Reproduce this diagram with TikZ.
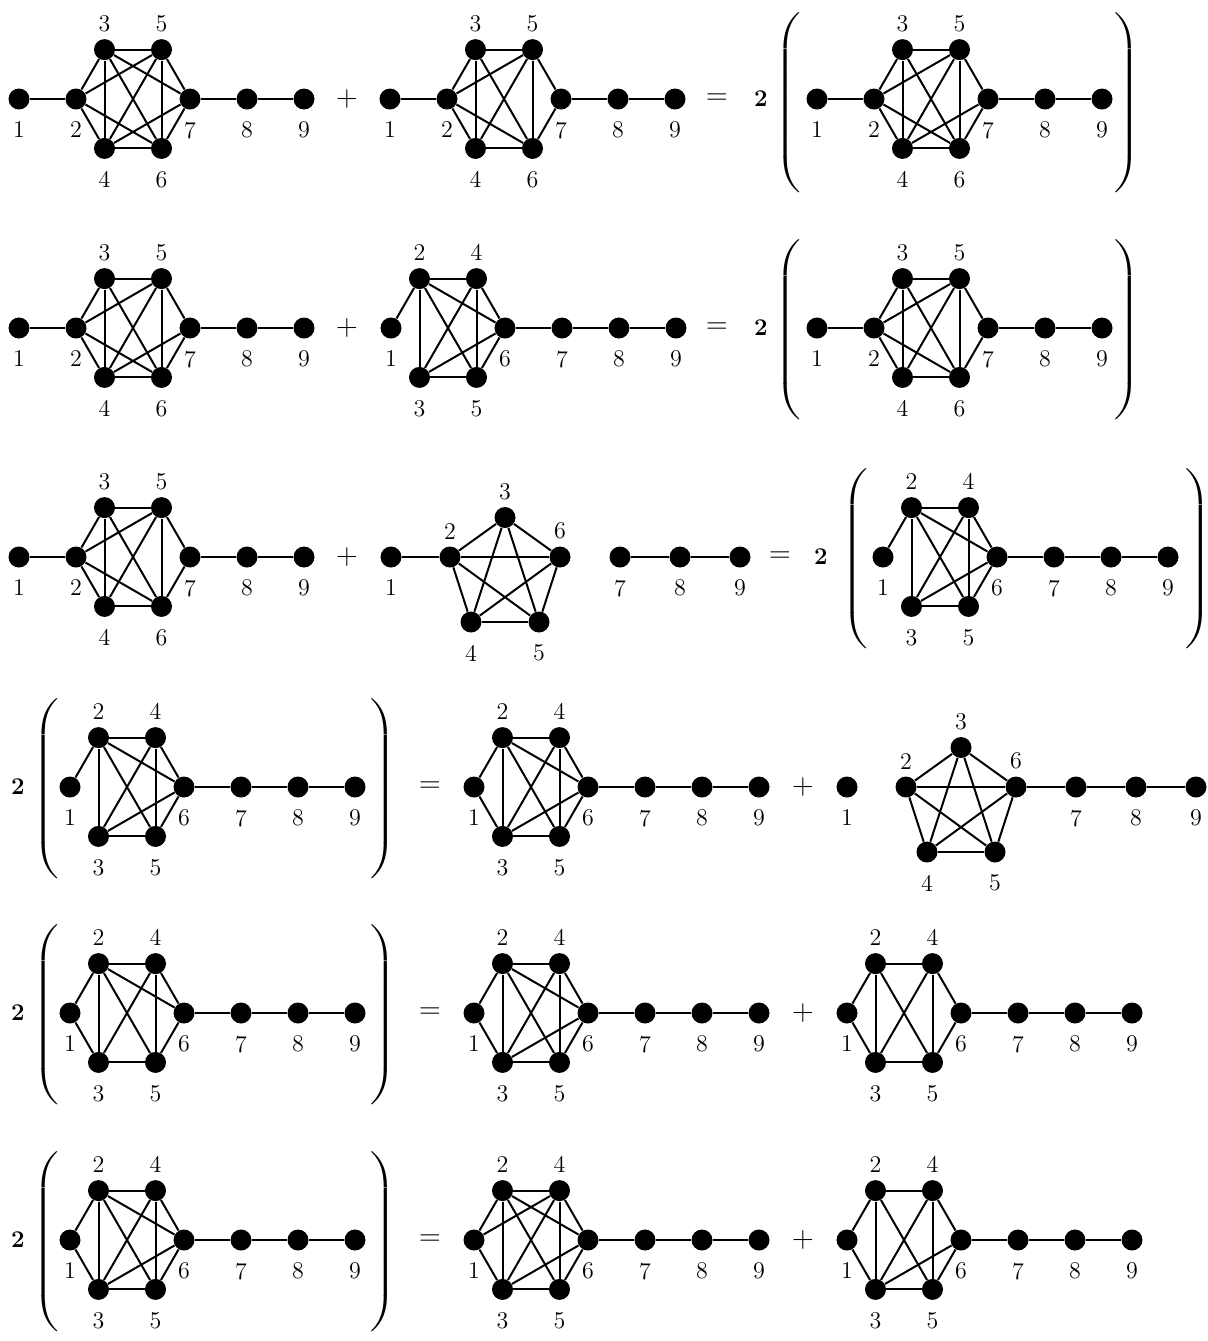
\documentclass[tikz,border=0pt]{standalone}
\usepackage{graphicx}
\usepackage{tikz}

% vertex layouts: #1 = name prefix, #2 = position of vertex 1
\newcommand{\hexout}[2]{%
  \begin{scope}[shift={(#2)}]
    \node[vtx,lb=1] (#1-1) at (0,0) {};
    \node[vtx,lb=2] (#1-2) at (57,0) {};
    \node[vtx,la=3] (#1-3) at (85.5,-49.4) {};
    \node[vtx,la=5] (#1-5) at (142.5,-49.4) {};
    \node[vtx,lb=4] (#1-4) at (85.5,49.4) {};
    \node[vtx,lb=6] (#1-6) at (142.5,49.4) {};
    \node[vtx,lb=7] (#1-7) at (171,0) {};
    \node[vtx,lb=8] (#1-8) at (228,0) {};
    \node[vtx,lb=9] (#1-9) at (285,0) {};
  \end{scope}}
\newcommand{\hexin}[2]{%
  \begin{scope}[shift={(#2)}]
    \node[vtx,lb=1] (#1-1) at (0,0) {};
    \node[vtx,la=2] (#1-2) at (28.5,-49.4) {};
    \node[vtx,la=4] (#1-4) at (85.5,-49.4) {};
    \node[vtx,lb=6] (#1-6) at (114,0) {};
    \node[vtx,lb=3] (#1-3) at (28.5,49.4) {};
    \node[vtx,lb=5] (#1-5) at (85.5,49.4) {};
    \node[vtx,lb=7] (#1-7) at (171,0) {};
    \node[vtx,lb=8] (#1-8) at (228,0) {};
    \node[vtx,lb=9] (#1-9) at (285,0) {};
  \end{scope}}
\newcommand{\penta}[2]{%
  \begin{scope}[shift={(#2)}]
    \node[vtx,lb=1] (#1-1) at (0,0) {};
    \node[vtx,la=2] (#1-2) at (59,0) {};
    \node[vtx,la=3] (#1-3) at (114,-39.5) {};
    \node[vtx,la=6] (#1-6) at (169,0) {};
    \node[vtx,lb=4] (#1-4) at (80,65) {};
    \node[vtx,lb=5] (#1-5) at (148,65) {};
    \node[vtx,lb=7] (#1-7) at (229,0) {};
    \node[vtx,lb=8] (#1-8) at (289,0) {};
    \node[vtx,lb=9] (#1-9) at (349,0) {};
  \end{scope}}
\newcommand{\edges}[2]{\foreach \s/\t in {#2} \draw[edge] (#1-\s) -- (#1-\t);}
\newcommand{\parL}{\scalebox{1.45}[1]{$\left(\vcenter{\hbox{\rule{0pt}{90pt}}}\right.$}}
\newcommand{\parR}{\scalebox{1.45}[1]{$\left.\vcenter{\hbox{\rule{0pt}{90pt}}}\right)$}}

\begin{document}
\begin{tikzpicture}[x=0.5pt, y=-0.5pt,
    vtx/.style={circle, fill=black, minimum size=10.5pt, inner sep=0pt},
    edge/.style={line width=1pt},
    la/.style={label={[font=\large]above:#1}},
    lb/.style={label={[font=\large,label distance=2.5pt]below:#1}},
    opsym/.style={font=\fontsize{15}{18}\selectfont},
    coef/.style={font=\large\bfseries},
    paren/.style={inner sep=0pt, font=\large},
]
    \useasboundingbox (0,0) rectangle (1208,1341);

    % row 1
    \hexout{g11}{19,99}
    \edges{g11}{1/2,2/3,2/4,2/5,2/6,3/4,3/5,3/6,3/7,4/5,4/6,4/7,5/6,5/7,6/7,7/8,8/9}
    \node[opsym] (p1) at (347,99) {+};
    \hexout{g12}{390,99}
    \edges{g12}{1/2,2/3,2/4,2/5,2/6,3/4,3/5,3/6,4/5,4/6,5/6,5/7,6/7,7/8,8/9}
    \node[opsym] (e1) at (717,99) {=};
    \node[coef] (c1) at (761,99) {2};
    \node[paren] (l1) at (790,103) {\parL};
    \hexout{g13}{817,99}
    \edges{g13}{1/2,2/3,2/4,2/5,2/6,3/4,3/5,3/6,4/5,4/6,4/7,5/6,5/7,6/7,7/8,8/9}
    \node[paren] (r1) at (1125,103) {\parR};

    % row 2
    \hexout{g21}{19,328}
    \edges{g21}{1/2,2/3,2/4,2/5,2/6,3/4,3/5,3/6,4/5,4/6,4/7,5/6,5/7,6/7,7/8,8/9}
    \node[opsym] (p2) at (347,328) {+};
    \hexin{g22}{391,328}
    \edges{g22}{1/2,2/3,2/4,2/5,2/6,3/4,3/5,3/6,4/5,4/6,5/6,6/7,7/8,8/9}
    \node[opsym] (e2) at (717,328) {=};
    \node[coef] (c2) at (761,328) {2};
    \node[paren] (l2) at (790,330) {\parL};
    \hexout{g23}{817,328}
    \edges{g23}{1/2,2/3,2/4,2/5,2/6,3/4,3/5,3/6,4/5,4/6,5/6,5/7,6/7,7/8,8/9}
    \node[paren] (r2) at (1125,330) {\parR};

    % row 3
    \hexout{g31}{19,557}
    \edges{g31}{1/2,2/3,2/4,2/5,2/6,3/4,3/5,3/6,4/5,4/6,5/6,5/7,6/7,7/8,8/9}
    \node[opsym] (p3) at (347,557) {+};
    \penta{g32}{391,557}
    \edges{g32}{1/2,2/3,2/4,2/5,2/6,3/4,3/5,3/6,4/5,4/6,5/6,7/8,8/9}
    \node[opsym] (e3) at (780,557) {=};
    \node[coef] (c3) at (821,557) {2};
    \node[paren] (l3) at (857,559) {\parL};
    \hexin{g33}{883,557}
    \edges{g33}{1/2,2/3,2/4,2/5,2/6,3/4,3/5,3/6,4/5,4/6,5/6,6/7,7/8,8/9}
    \node[paren] (r3) at (1196,559) {\parR};

    % row 4
    \node[coef] (c4) at (18,787) {2};
    \node[paren] (l4) at (48,789) {\parL};
    \hexin{g41}{70,787}
    \edges{g41}{1/2,2/3,2/4,2/5,2/6,3/4,3/5,3/6,4/5,4/6,5/6,6/7,7/8,8/9}
    \node[paren] (r4) at (381,789) {\parR};
    \node[opsym] (e4) at (430,787) {=};
    \hexin{g42}{474,787}
    \edges{g42}{1/2,1/3,2/3,2/4,2/5,2/6,3/4,3/5,3/6,4/5,4/6,5/6,6/7,7/8,8/9}
    \node[opsym] (p4) at (803,787) {+};
    \penta{g43}{847,787}
    \edges{g43}{2/3,2/4,2/5,2/6,3/4,3/5,3/6,4/5,4/6,5/6,6/7,7/8,8/9}

    % row 5
    \node[coef] (c5) at (18,1013) {2};
    \node[paren] (l5) at (48,1015) {\parL};
    \hexin{g51}{70,1013}
    \edges{g51}{1/2,1/3,2/3,2/4,2/5,2/6,3/4,3/5,4/5,4/6,5/6,6/7,7/8,8/9}
    \node[paren] (r5) at (381,1015) {\parR};
    \node[opsym] (e5) at (430,1013) {=};
    \hexin{g52}{474,1013}
    \edges{g52}{1/2,1/3,2/3,2/4,2/5,2/6,3/4,3/5,3/6,4/5,4/6,5/6,6/7,7/8,8/9}
    \node[opsym] (p5) at (803,1013) {+};
    \hexin{g53}{847,1013}
    \edges{g53}{1/2,1/3,2/3,2/4,2/5,3/4,3/5,4/5,4/6,5/6,6/7,7/8,8/9}

    % row 6
    \node[coef] (c6) at (18,1240) {2};
    \node[paren] (l6) at (48,1242) {\parL};
    \hexin{g61}{70,1240}
    \edges{g61}{1/2,1/3,2/3,2/4,2/5,2/6,3/4,3/5,3/6,4/5,4/6,5/6,6/7,7/8,8/9}
    \node[paren] (r6) at (381,1242) {\parR};
    \node[opsym] (e6) at (430,1240) {=};
    \hexin{g62}{474,1240}
    \edges{g62}{1/2,1/3,1/4,2/3,2/4,2/5,2/6,3/4,3/5,3/6,4/5,4/6,5/6,6/7,7/8,8/9}
    \node[opsym] (p6) at (803,1240) {+};
    \hexin{g63}{847,1240}
    \edges{g63}{1/2,1/3,2/3,2/4,2/5,3/4,3/5,3/6,4/5,4/6,5/6,6/7,7/8,8/9}
\end{tikzpicture}
\end{document}
